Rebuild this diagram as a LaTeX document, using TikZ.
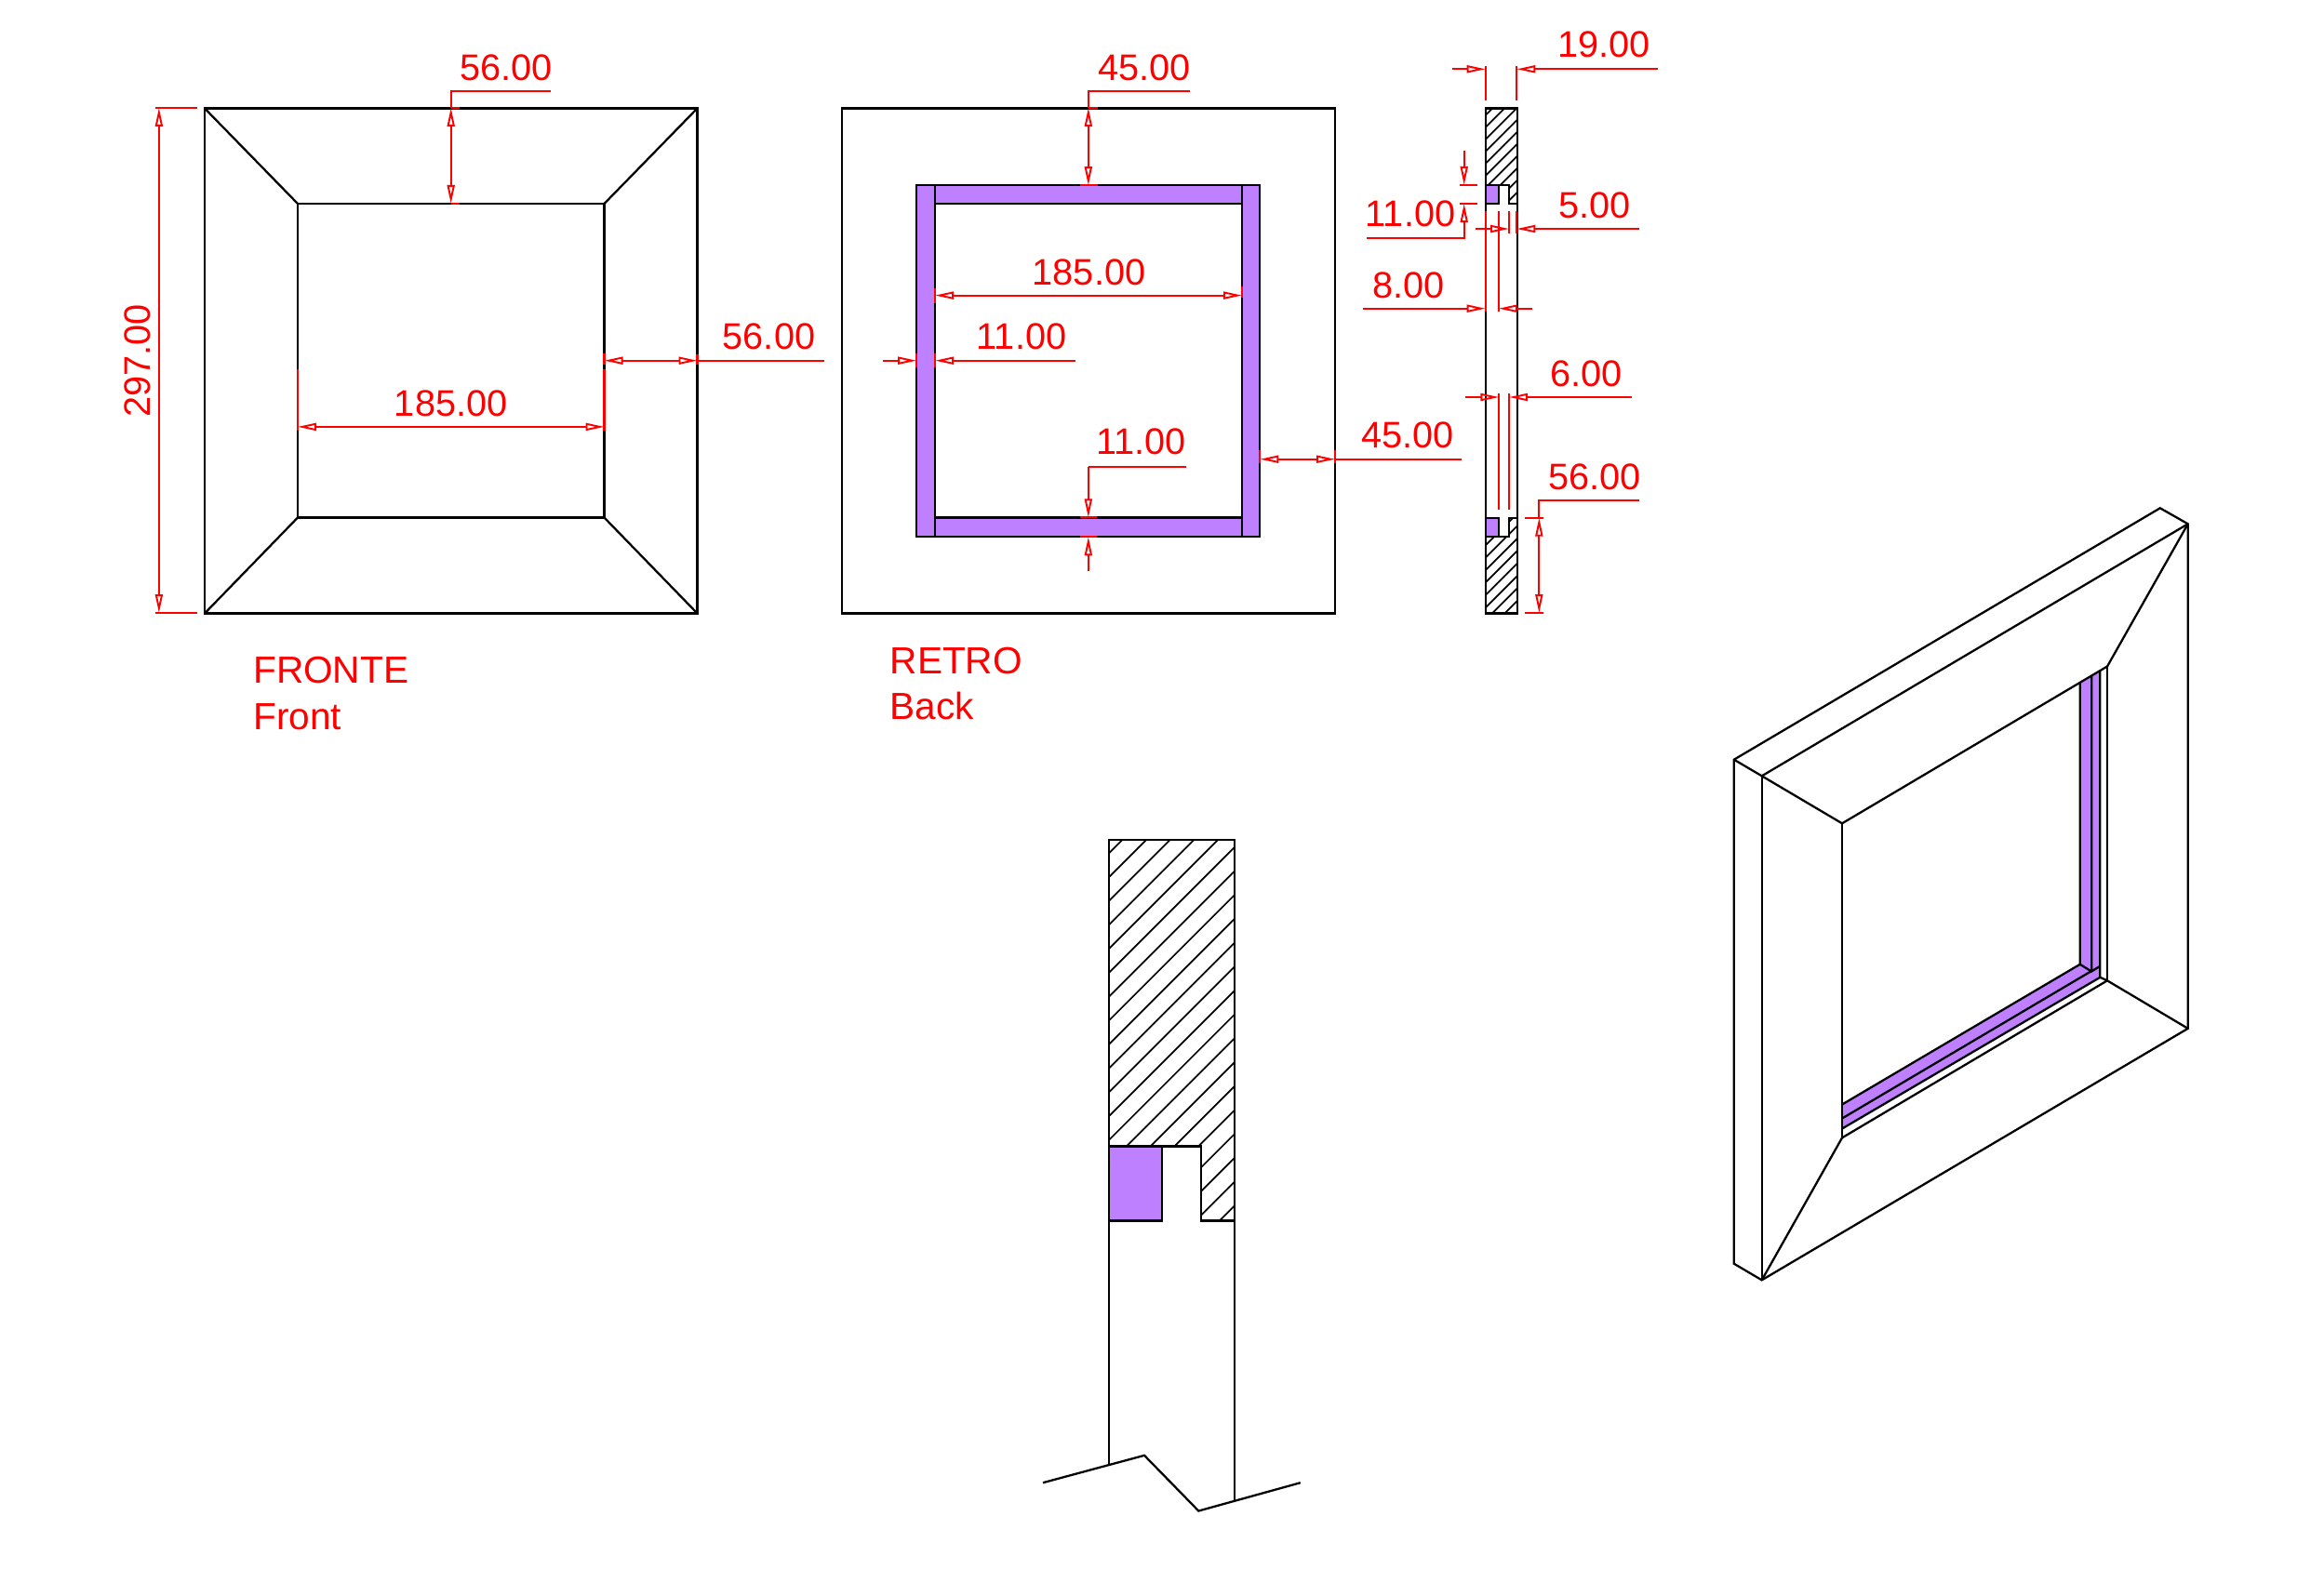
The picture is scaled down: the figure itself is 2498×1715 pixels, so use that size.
\documentclass[tikz,border=0pt]{standalone}
\usepackage{fontspec}
\setmainfont{Liberation Sans}
\usetikzlibrary{arrows.meta}
\definecolor{viola}{HTML}{BF80FF}
\tikzset{
  obj/.style={black,line width=.65pt,line join=miter},
  band/.style={fill=viola,draw=none},
  hatchln/.style={black,line width=.5pt},
  dimln/.style={red,line width=.6pt},
  head/.tip={Triangle[open,length=.2cm,width=.08cm,line width=.55pt]},
  lab/.style={red,inner sep=0pt,font=\fontsize{11.3}{13}\selectfont,anchor=base},
  labw/.style={red,inner sep=0pt,font=\fontsize{11.55}{13}\selectfont,anchor=base west},
}
\begin{document}
\begin{tikzpicture}[x=0.01cm,y=-0.01cm]
\useasboundingbox[fill=white] (0,0) rectangle (2498,1715);

% ---------- FRONT ----------
\draw[obj] (220,116.5) rectangle (749.5,659.5);
\draw[obj] (320,219) rectangle (649.5,556.5);
\draw[obj] (220,116.5)--(320,219) (749.5,116.5)--(649.5,219) (220,659.5)--(320,556.5) (749.5,659.5)--(649.5,556.5);
\draw[dimln] (591.8,98.2)--(484.7,98.2)--(484.7,116) (484.7,116)--(494,116) (484.7,219)--(494,219);
\draw[dimln,{head}-{head}] (484.7,116)--(484.7,219);
\draw[dimln,{head}-{head}] (170.9,116)--(170.9,659);
\draw[dimln] (166.8,116)--(211.7,116) (166.8,659)--(211.7,659);
\draw[dimln,{head}-{head}] (320,458.9)--(649.5,458.9);
\draw[dimln] (320,396.7)--(320,463) (649.5,396.7)--(649.5,463);
\draw[dimln,{head}-{head}] (649.5,387.7)--(749.5,387.7);
\draw[dimln] (749.5,387.7)--(885.7,387.7) (649.5,380)--(649.5,392) (749.5,381)--(749.5,392);
\node[lab] (f56t) at (544,86) {56.00};
\node[lab,rotate=90] (f297) at (161,388) {297.00};
\node[lab] (f185) at (484.7,447) {185.00};
\node[lab] (f56r) at (826.5,375.8) {56.00};
\node[labw] (fronte) at (271.5,734.5) {FRONTE};
\node[labw] (front) at (271.5,784.2) {Front};

% ---------- BACK ----------
\draw[obj] (905,116.5) rectangle (1435,659.5);
\fill[band] (985.2,199.2) rectangle (1354.3,577.3);
\fill[white] (1005,219) rectangle (1335,556.4);
\draw[obj] (985.2,199.2) rectangle (1354.3,577.3);
\draw[obj] (1005,199.2)--(1005,577.3) (1335,199.2)--(1335,577.3) (1005,219)--(1335,219) (1005,556.4)--(1335,556.4);
\draw[dimln] (1278.8,98.2)--(1169.8,98.2)--(1169.8,116) (1169.8,116)--(1180,116) (1160.8,199.2)--(1180,199.2);
\draw[dimln,{head}-{head}] (1169.8,116)--(1169.8,199.2);
\draw[dimln,{head}-{head}] (1005,317.6)--(1335,317.6);
\draw[dimln] (1005,310)--(1005,326) (1335,308)--(1335,320);
\draw[dimln,-{head}] (949,387.7)--(985.2,387.7);
\draw[dimln,-{head}] (1156,387.7)--(1005,387.7);
\draw[dimln] (985.2,380)--(985.2,395) (1005,380)--(1005,395);
\draw[dimln] (1274.5,501.6)--(1169.8,501.6);
\draw[dimln,-{head}] (1169.8,501.6)--(1169.8,556.4);
\draw[dimln,-{head}] (1169.8,613.6)--(1169.8,577.3);
\draw[dimln] (1160.8,556.4)--(1179,556.4) (1160.8,577.3)--(1179,577.3);
\draw[dimln,{head}-{head}] (1354.3,493.7)--(1435,493.7);
\draw[dimln] (1435,493.7)--(1571.4,493.7) (1354.3,484)--(1354.3,498) (1435,484)--(1435,498);
\node[lab] (b45t) at (1230,86) {45.00};
\node[lab] (b185) at (1170.5,306) {185.00};
\node[lab] (b11l) at (1098,375.8) {11.00};
\node[lab] (b11b) at (1226.5,488.7) {11.00};
\node[lab] (b45r) at (1513,481.7) {45.00};
\node[labw] (retro) at (956,724) {RETRO};
\node[labw] (back) at (956,773) {Back};

% ---------- SIDE SECTION ----------
\begin{scope}
\clip (1596.7,116)--(1630.7,116)--(1630.7,219)--(1622,219)--(1622,199)--(1596.7,199)--cycle;
\foreach \k in {0,...,16}{
  \pgfmathsetmacro{\cc}{1720.7+13*\k}
  \draw[hatchln] (1590,\cc-1590)--(1640,\cc-1640);
}
\end{scope}
\begin{scope}
\clip (1596.7,659)--(1630.7,659)--(1630.7,557)--(1622,557)--(1622,577)--(1596.7,577)--cycle;
\foreach \k in {0,...,16}{
  \pgfmathsetmacro{\cc}{2183+13.4*\k}
  \draw[hatchln] (1590,\cc-1590)--(1640,\cc-1640);
}
\end{scope}
\fill[band] (1596.7,199) rectangle (1611.3,219);
\fill[band] (1596.7,556.7) rectangle (1611.3,576.7);
\draw[obj] (1596.7,116.5) rectangle (1630.7,659.5);
\draw[obj] (1596.7,199)--(1622,199)--(1622,219)--(1630.7,219);
\draw[obj] (1596.7,219)--(1611.3,219)--(1611.3,199);
\draw[obj] (1596.7,576.7)--(1622,576.7)--(1622,556.7)--(1630.7,556.7);
\draw[obj] (1596.7,556.7)--(1611.3,556.7)--(1611.3,576.7);
% 19
\draw[dimln] (1596.7,70.7)--(1596.7,108.3) (1630.3,70.7)--(1630.3,108.3);
\draw[dimln,-{head}] (1560.7,74.3)--(1596.7,74.3);
\draw[dimln,-{head}] (1781.7,74.3)--(1630.3,74.3);
% 11 side
\draw[dimln,-{head}] (1573.7,161.7)--(1573.7,199);
\draw[dimln,-{head}] (1469,255.7)--(1573.7,255.7)--(1573.7,219);
\draw[dimln] (1569.3,199)--(1588.3,199) (1569.3,219)--(1588.3,219);
% 5
\draw[dimln,-{head}] (1585.7,246)--(1622,246);
\draw[dimln,-{head}] (1762.3,246)--(1630.3,246);
\draw[dimln] (1622,227.3)--(1622,250.7) (1630.3,227.3)--(1630.3,250.7);
% 8
\draw[dimln,-{head}] (1465,331.7)--(1596.7,331.7);
\draw[dimln,-{head}] (1647.3,331.7)--(1610.7,331.7);
\draw[dimln] (1596.7,227.3)--(1596.7,335) (1610.7,227.3)--(1610.7,335);
% 6
\draw[dimln,-{head}] (1575,427)--(1611.3,427);
\draw[dimln,-{head}] (1753.7,427)--(1622,427);
\draw[dimln] (1611.3,423.3)--(1611.3,548.3) (1622,423.3)--(1622,548.3);
% 56 side
\draw[dimln] (1762.3,538.3)--(1654.3,538.3)--(1654.3,556.7);
\draw[dimln,{head}-{head}] (1654.3,556.7)--(1654.3,659);
\draw[dimln] (1639,556.7)--(1659,556.7) (1639,659)--(1659,659);
\node[lab] (s19) at (1723.8,61.7) {19.00};
\node[lab] (s11) at (1516,243.3) {11.00};
\node[lab] (s5) at (1714.2,234) {5.00};
\node[lab] (s8) at (1514,320) {8.00};
\node[lab] (s6) at (1705.3,415) {6.00};
\node[lab] (s56) at (1714.2,526) {56.00};

% ---------- ENLARGED SECTION ----------
\begin{scope}[shift={(0,1.2)}]
\begin{scope}
\clip (1191.7,902)--(1327,902)--(1327,1311.3)--(1291,1311.3)--(1291,1231.2)--(1191.7,1231.2)--cycle;
\foreach \k in {0,...,22}{
  \pgfmathsetmacro{\cc}{2109.3+25.7*\k}
  \draw[hatchln] (1180,\cc-1180-1.2)--(1340,\cc-1340-1.2);
}
\end{scope}
\fill[band] (1191.7,1231.2) rectangle (1249,1311.3);
\draw[obj] (1191.7,1574)--(1191.7,902)--(1327,902)--(1327,1612.3);
\draw[obj] (1191.7,1231.2)--(1291,1231.2)--(1291,1311.3)--(1327,1311.3);
\draw[obj] (1191.7,1311.3)--(1249,1311.3)--(1249,1231.2);
\draw[obj] (1121,1593)--(1230,1563.6)--(1288.3,1623.3)--(1397.7,1593);
\end{scope}

% ---------- ISOMETRIC VIEW ----------
\begin{scope}[shift={(0,1.5)}]
\fill[band] (1980,1186)--(2235.7,1035.3)--(2247.7,1042.7)--(2257.3,1037.3)--(2257.3,1049.3)--(1980,1212)--cycle;
\fill[band] (2235.7,732.3)--(2257.3,719.7)--(2257.3,1037.3)--(2247.7,1042.7)--(2235.7,1035.3)--cycle;
\draw[obj] (1863.8,815.2)--(2321.8,544.8)--(2351.7,561.8)--(2351.7,1104.3)--(1893.7,1374.8)--(1863.8,1357.2)--cycle;
\draw[obj] (1863.8,815.2)--(1893.7,832.8)--(2351.7,561.8);
\draw[obj] (1893.7,832.8)--(1893.7,1374.8);
\draw[obj] (1893.7,832.8)--(1980,883.8)--(2265,715)--(2351.7,561.8);
\draw[obj] (1893.7,1374.8)--(1980,1221.8)--(2265,1052.8)--(2351.7,1104.3);
\draw[obj] (1980,883.8)--(1980,1221.8);
\draw[obj] (2265,715)--(2265,1052.8);
\draw[obj] (2235.7,732.3)--(2235.7,1035.3)--(1980,1186);
\draw[obj] (2235.7,1035.3)--(2247.7,1042.7)--(1980,1201);
\draw[obj] (2248.3,725)--(2248.3,1042.7)--(2257.3,1037.3);
\draw[obj] (2257.3,719.7)--(2257.3,1049.3)--(1980,1212);
\draw[obj] (2257.3,1049.3)--(2265,1052.8);
\end{scope}
\end{tikzpicture}
\end{document}
